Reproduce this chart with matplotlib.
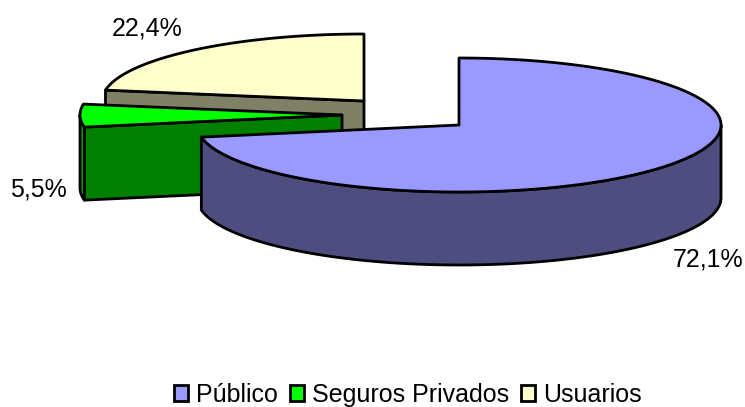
import numpy as np
import matplotlib
matplotlib.use("Agg")
import matplotlib.pyplot as plt
from matplotlib.patches import Polygon, Patch

categories = ["Público", "Seguros Privados", "Usuarios"]
shares = [72.1, 5.5, 22.4]
labels = ["72,1%", "5,5%", "22,4%"]

top_colors = ["#9999FF", "#00FF00", "#FFFFCC"]
front_colors = ["#4D4D80", "#008000", "#808066"]
rim_colors = ["#4D4D80", "#00A000", "#808066"]

RX, RY, DEPTH = 262, 67, 73
centers = {0: (459, 125), 1: (342, 115), 2: (364, 101)}
label_pos = {0: (708.5, 259), 1: (38.5, 190), 2: (147, 28.5)}

plt.rcParams["font.family"] = ["Liberation Sans", "DejaVu Sans"]
fig = plt.figure(figsize=(7.45, 4.07), dpi=100)
ax = fig.add_axes([0, 0, 1, 1])
ax.set_xlim(0, 745)
ax.set_ylim(407, 0)
ax.axis("off")


def rim(cx, cy, a0, a1, n=120):
    t = np.radians(np.linspace(a0, a1, n))
    return np.column_stack([cx + RX * np.cos(t), cy - RY * np.sin(t)])


fractions = np.array(shares) / sum(shares)
starts = 90 - 360 * np.concatenate([[0], np.cumsum(fractions)[:-1]])
ends = starts - 360 * fractions
LW = 2.0
kw = dict(edgecolor="black", linewidth=LW, joinstyle="round")

# painter's order: back slice first
for order, i in enumerate([2, 1, 0]):
    cx, cy = centers[i]
    a0, a1 = starts[i] % 360, ends[i] % 360
    if a1 > a0:
        a1 -= 360
    z = 2 + order * 3
    # cut wall at the slice's first edge, seen from the front for the two small slices
    if i != 0:
        p = rim(cx, cy, a0, a0, 1)[0]
        side = [(cx, cy), tuple(p), (p[0], p[1] + DEPTH), (cx, cy + DEPTH)]
        ax.add_patch(Polygon(side, closed=True, facecolor=front_colors[i], zorder=z, **kw))
    # outer wall: only the part of the rim on the front half of the ellipse
    lo, hi = (180, a0) if i == 1 else (a1, 0) if i == 0 else (None, None)
    if lo is not None:
        arc = rim(cx, cy, lo, hi)
        wall = np.vstack([arc, (arc + [0, DEPTH])[::-1]])
        ax.add_patch(Polygon(wall, closed=True, facecolor=rim_colors[i], zorder=z + 1, **kw))
    # top surface
    top = np.vstack([[(cx, cy)], rim(cx, cy, a0, a1, 240)])
    ax.add_patch(Polygon(top, closed=True, facecolor=top_colors[i], zorder=z + 2, **kw))

for i, text in enumerate(labels):
    ax.text(*label_pos[i], text, fontsize=18, ha="center", va="center", color="black", zorder=20)

handles = [Patch(facecolor=c, edgecolor="black", linewidth=LW) for c in top_colors]
ax.legend(handles, categories, loc="lower center", bbox_to_anchor=(408 / 745, 0.0005), ncols=3,
          frameon=False, fontsize=18, handlelength=0.56, handleheight=0.56,
          handletextpad=0.3, columnspacing=0.5, borderpad=0, borderaxespad=0)

fig.savefig("out.png", dpi=100, facecolor="white")
